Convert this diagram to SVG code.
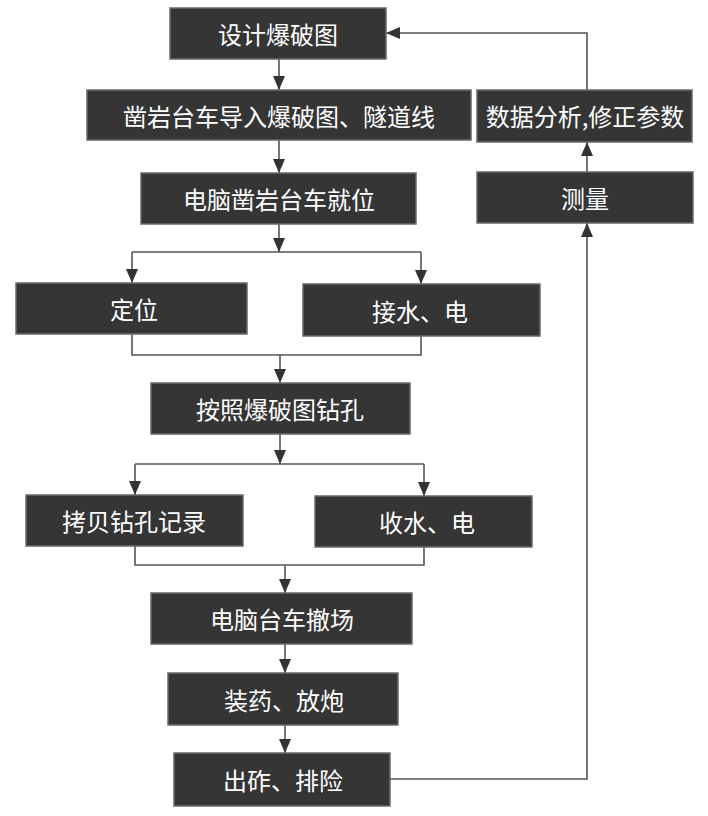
<svg xmlns="http://www.w3.org/2000/svg" width="708" height="816" viewBox="0 0 708 816">
<defs>
<style>
.box{fill:#353535;stroke:#6a6a6a;stroke-width:1.5}
.t{fill:#ffffff;font-family:"Noto Sans CJK SC","Noto Sans CJK JP",sans-serif;font-size:24px;text-anchor:middle;dominant-baseline:central}
.c{fill:none;stroke:#555555;stroke-width:1.6}
</style>
<marker id="ah" viewBox="0 0 14 12" refX="14" refY="6" markerWidth="14" markerHeight="12" markerUnits="userSpaceOnUse" orient="auto">
<path d="M0,0 L14,6 L0,12 Z" fill="#333333"/>
</marker>
</defs>
<rect width="708" height="816" fill="#ffffff"/>
<g id="connectors">
<path class="c" d="M279,59 V90" marker-end="url(#ah)"/>
<path class="c" d="M279,140 V173" marker-end="url(#ah)"/>
<path class="c" d="M279,224 V252" marker-end="url(#ah)"/>
<path class="c" d="M132,252 H421"/>
<path class="c" d="M132,252 V283" marker-end="url(#ah)"/>
<path class="c" d="M421,252 V284" marker-end="url(#ah)"/>
<path class="c" d="M132,334 V355 H421 V336"/>
<path class="c" d="M280,355 V383" marker-end="url(#ah)"/>
<path class="c" d="M280,434 V464" marker-end="url(#ah)"/>
<path class="c" d="M135,464 H424"/>
<path class="c" d="M135,464 V495" marker-end="url(#ah)"/>
<path class="c" d="M424,464 V496" marker-end="url(#ah)"/>
<path class="c" d="M135,546 V565 H424 V547"/>
<path class="c" d="M285,565 V593" marker-end="url(#ah)"/>
<path class="c" d="M285,644 V673" marker-end="url(#ah)"/>
<path class="c" d="M285,725 V753" marker-end="url(#ah)"/>
<path class="c" d="M390,779 H587 V223" marker-end="url(#ah)"/>
<path class="c" d="M587,172 V142" marker-end="url(#ah)"/>
<path class="c" d="M587,90 V33 H386" marker-end="url(#ah)"/>
</g>
<g id="n1"><rect class="box" x="170" y="8" width="216" height="51"/><text class="t" x="278" y="33">设计爆破图</text></g>
<g id="n2"><rect class="box" x="87" y="90" width="384" height="50"/><text class="t" x="279" y="115">凿岩台车导入爆破图、隧道线</text></g>
<g id="n3"><rect class="box" x="141" y="173" width="275" height="51"/><text class="t" x="279" y="198">电脑凿岩台车就位</text></g>
<g id="n4"><rect class="box" x="16" y="283" width="231" height="51"/><text class="t" x="134" y="308">定位</text></g>
<g id="n5"><rect class="box" x="303" y="284" width="237" height="52"/><text class="t" x="420" y="310">接水、电</text></g>
<g id="n6"><rect class="box" x="151" y="383" width="259" height="51"/><text class="t" x="280" y="408">按照爆破图钻孔</text></g>
<g id="n7"><rect class="box" x="26" y="495" width="217" height="51"/><text class="t" x="134" y="520">拷贝钻孔记录</text></g>
<g id="n8"><rect class="box" x="315" y="496" width="217" height="51"/><text class="t" x="427" y="521">收水、电</text></g>
<g id="n9"><rect class="box" x="151" y="593" width="261" height="51"/><text class="t" x="282" y="618">电脑台车撤场</text></g>
<g id="n10"><rect class="box" x="168" y="673" width="230" height="52"/><text class="t" x="284" y="699">装药、放炮</text></g>
<g id="n11"><rect class="box" x="174" y="753" width="216" height="53"/><text class="t" x="283" y="779">出砟、排险</text></g>
<g id="n12"><rect class="box" x="477" y="172" width="216" height="51"/><text class="t" x="585" y="197">测量</text></g>
<g id="n13"><rect class="box" x="477" y="90" width="215" height="52"/><text class="t" x="585" y="115">数据分析,修正参数</text></g>
</svg>
